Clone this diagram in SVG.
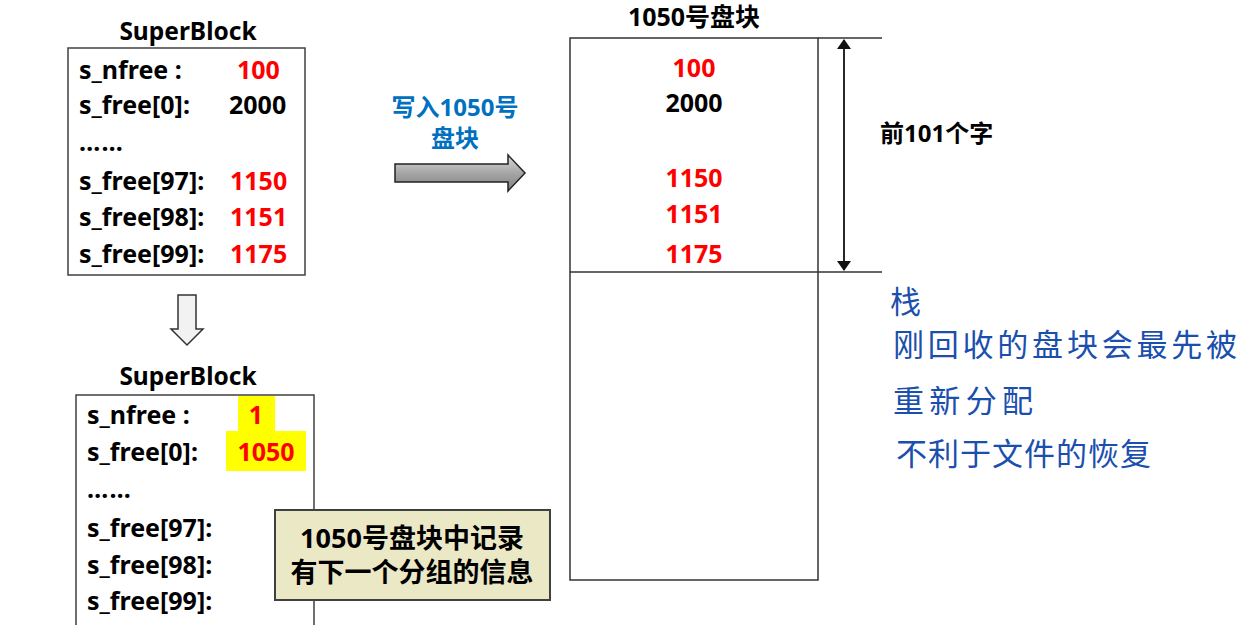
<svg xmlns="http://www.w3.org/2000/svg" width="1255" height="625" viewBox="0 0 1255 625">
<style>
text{font-family:"Noto Sans","Noto Sans CJK SC",sans-serif;font-weight:bold;}
.t{font-size:25px;fill:#000;}
.r{font-size:25px;fill:#ff0000;}
.box{fill:#fff;stroke:#404040;stroke-width:1.5;}
.ln{stroke:#333;stroke-width:1.5;fill:none;}
.hw{font-family:"Noto Sans CJK SC",sans-serif;font-weight:normal;font-size:31px;fill:#1a4fae;}
</style>
<defs>
<linearGradient id="ga" x1="0" y1="0" x2="0" y2="1">
<stop offset="0" stop-color="#d9d9d9"/><stop offset="0.5" stop-color="#a6a6a6"/><stop offset="1" stop-color="#7f7f7f"/>
</linearGradient>
<marker id="ah" markerWidth="10" markerHeight="14" refX="9" refY="7" orient="auto-start-reverse" markerUnits="userSpaceOnUse">
<path d="M0,0 L10,7 L0,14 Z" fill="#111"/>
</marker>
</defs>
<g id="sb1">
<text class="t" x="188" y="40" text-anchor="middle" style="font-size:24.5px">SuperBlock</text>
<rect class="box" x="68" y="48" width="237" height="227"/>
<text class="t" x="79" y="79">s_nfree :</text><text class="r" x="237" y="79">100</text>
<text class="t" x="79" y="114">s_free[0]:</text><text class="t" x="229" y="114">2000</text>
<text class="t" x="79" y="151" textLength="44">……</text>
<text class="t" x="79" y="190">s_free[97]:</text><text class="r" x="230" y="190">1150</text>
<text class="t" x="79" y="226">s_free[98]:</text><text class="r" x="230" y="226">1151</text>
<text class="t" x="79" y="263">s_free[99]:</text><text class="r" x="230" y="263">1175</text>
</g>
<g id="sb2">
<text class="t" x="188" y="385" text-anchor="middle" style="font-size:24.5px">SuperBlock</text>
<rect class="box" x="76" y="395" width="238" height="240"/>
<rect x="238" y="396" width="37" height="36" fill="#ffff00"/>
<rect x="226" y="431" width="80" height="40" fill="#ffff00"/>
<text class="t" x="87" y="424">s_nfree :</text><text class="r" x="256" y="424" text-anchor="middle">1</text>
<text class="t" x="87" y="461">s_free[0]:</text><text class="r" x="266" y="461" text-anchor="middle">1050</text>
<text class="t" x="87" y="498" textLength="44">……</text>
<text class="t" x="87" y="537">s_free[97]:</text>
<text class="t" x="87" y="574">s_free[98]:</text>
<text class="t" x="87" y="610">s_free[99]:</text>
</g>
<g id="note">
<rect x="275" y="510" width="275" height="90" fill="#ebe8c6" stroke="#404040" stroke-width="2"/>
<text x="412" y="548" text-anchor="middle" style="font-size:27px">1050号盘块中记录</text>
<text x="412" y="582" text-anchor="middle" style="font-size:27px">有下一个分组的信息</text>
</g>
<g id="block1050">
<text class="t" x="694" y="26" text-anchor="middle">1050号盘块</text>
<rect x="570" y="38" width="248" height="542" fill="#fff" stroke="#333" stroke-width="1.5"/>
<line class="ln" x1="818" y1="38" x2="882" y2="38"/>
<line class="ln" x1="570" y1="272" x2="882" y2="272"/>
<text class="r" x="694" y="77" text-anchor="middle">100</text>
<text class="t" x="694" y="112" text-anchor="middle">2000</text>
<text class="r" x="694" y="187" text-anchor="middle">1150</text>
<text class="r" x="694" y="223" text-anchor="middle">1151</text>
<text class="r" x="694" y="263" text-anchor="middle">1175</text>
<text x="880" y="142" style="font-size:24px">前101个字</text>
</g>
<g id="connectors">
<line x1="844" y1="40" x2="844" y2="270" stroke="#111" stroke-width="1.8" marker-start="url(#ah)" marker-end="url(#ah)"/>
<path d="M178,295 L196,295 L196,329 L203,329 L187,345 L171,329 L178,329 Z" fill="#f2f2f2" stroke="#333" stroke-width="1.5"/>
<path d="M395,164 L508,164 L508,155 L525,173 L508,191 L508,182 L395,182 Z" fill="url(#ga)" stroke="#222" stroke-width="1.5"/>
<text x="455" y="116" text-anchor="middle" style="font-size:24px;fill:#0070c0">写入1050号</text>
<text x="455" y="147" text-anchor="middle" style="font-size:24px;fill:#0070c0">盘块</text>
</g>
<g id="handwriting">
<text class="hw" x="890" y="313">栈</text>
<text class="hw" x="893" y="356" textLength="344" lengthAdjust="spacing">刚回收的盘块会最先被</text>
<text class="hw" x="893" y="412" textLength="140" lengthAdjust="spacing">重新分配</text>
<text class="hw" x="896" y="465" textLength="255" lengthAdjust="spacing">不利于文件的恢复</text>
</g>
</svg>
